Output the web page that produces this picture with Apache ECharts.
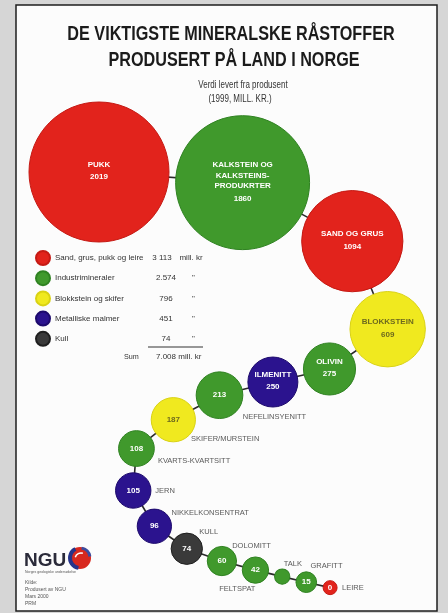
<!DOCTYPE html>
<html>
<head>
<meta charset="utf-8">
<script src="https://cdn.jsdelivr.net/npm/echarts@6/dist/echarts.min.js"></script>
<style>
  html, body { margin: 0; padding: 0; background: #d6d6d6; }
  #chart { width: 448px; height: 613px; }
</style>
</head>
<body>
<div id="chart"></div>
<script>
// ---- Data: value delivered from producer, 1999, mill. kr ----
const minerals = ['PUKK', 'KALKSTEIN OG\nKALKSTEINS-\nPRODUKRTER', 'SAND OG GRUS', 'BLOKKSTEIN', 'OLIVIN',
  'ILMENITT', 'NEFELINSYENITT', 'SKIFER/MURSTEIN', 'KVARTS-KVARTSITT', 'JERN', 'NIKKELKONSENTRAT',
  'KULL', 'DOLOMITT', 'FELTSPAT', 'TALK', 'GRAFITT', 'LEIRE'];
const values = [2019, 1860, 1094, 609, 275, 250, 213, 187, 108, 105, 96, 74, 60, 42, 1, 15, 0];
const groupIndex = [0, 1, 0, 2, 1, 3, 1, 2, 1, 3, 3, 4, 1, 1, 1, 1, 0];
const groupNames = ['Sand, grus, pukk og leire', 'Industrimineraler', 'Blokkstein og skifer', 'Metalliske malmer', 'Kull'];
const titleLines = ['DE VIKTIGSTE MINERALSKE RÅSTOFFER', 'PRODUSERT PÅ LAND I NORGE'];
const subtitleLines = ['Verdi levert fra produsent', '(1999, MILL. KR.)'];
const creditLines = ['Kilde:', 'Produsert av NGU', 'Mars 2000', 'PRM'];
const sumLabel = 'Sum';
const unitText = 'mill. kr';
const noValueLabel = ['TALK'];

// ---- Styles ----
const FONT = "'Liberation Sans', Arial, sans-serif";
const groupColors = ['#e2231c', '#40992c', '#f0e91f', '#2b138e', '#3a3a3a'];
const groupEdges = ['#c51a14', '#2f8221', '#d9d214', '#1d0a6c', '#1f1f1f'];
const groupText = ['#ffffff', '#ffffff', '#6e6a1e', '#ffffff', '#ffffff'];
const innerNameMin = 250;          // bubbles this large carry their name inside
const GAP = 6.5;                   // space between neighbouring bubbles along the chain
// Track the chain of bubbles follows (screen px)
const track = [[99, 172], [236, 181], [340, 230], [394, 312], [334, 367], [220, 395],
  [136, 449], [133, 490], [183, 547], [340, 590], [430, 607]];
// Where each outside name sits, in bubble radii from its centre
const namePlacement = {
  'NEFELINSYENITT': [1.0, 0.95, 'left'], 'SKIFER/MURSTEIN': [0.8, 0.85, 'left'],
  'KVARTS-KVARTSITT': [1.2, 0.7, 'left'], 'JERN': [1.25, 0, 'left'],
  'NIKKELKONSENTRAT': [1.0, -0.75, 'left'], 'KULL': [0.8, -1.1, 'left'],
  'DOLOMITT': [0.7, -1.0, 'left'], 'FELTSPAT': [0.0, 1.1, 'right'],
  'TALK': [0.2, -1.7, 'left'], 'GRAFITT': [0.4, -1.6, 'left'], 'LEIRE': [1.7, 0, 'left']
};

function radius(v) { return 7 + 0.655 * Math.pow(v, 0.6); }

function sampleTrack(pts, n) {
  const out = [];
  for (let i = 0; i < pts.length - 1; i++) {
    const p0 = pts[Math.max(i - 1, 0)], p1 = pts[i], p2 = pts[i + 1], p3 = pts[Math.min(i + 2, pts.length - 1)];
    for (let k = 0; k < n; k++) {
      const t = k / n, t2 = t * t, t3 = t2 * t;
      const f = (a, b, c, d) => 0.5 * (2 * b + (-a + c) * t + (2 * a - 5 * b + 4 * c - d) * t2 + (-a + 3 * b - 3 * c + d) * t3);
      out.push([f(p0[0], p1[0], p2[0], p3[0]), f(p0[1], p1[1], p2[1], p3[1])]);
    }
  }
  out.push(pts[pts.length - 1]);
  return out;
}
const dist = (a, b) => Math.hypot(a[0] - b[0], a[1] - b[1]);

// Slide each bubble along the track so neighbours sit GAP apart
const samples = sampleTrack(track, 200);
const centers = [samples[0]];
let si = 0;
for (let i = 1; i < values.length; i++) {
  const prev = centers[i - 1];
  const need = radius(values[i - 1]) + radius(values[i]) + GAP;
  while (si < samples.length - 1 && dist(samples[si], prev) < need) si++;
  centers.push(samples[si]);
}

function fmt(n, sep) { return String(n).replace(/\B(?=(\d{3})+(?!\d))/g, sep); }
const groupTotals = groupNames.map((_, g) => values.reduce((s, v, i) => s + (groupIndex[i] === g ? v : 0), 0));
const grandTotal = groupTotals.reduce((a, b) => a + b, 0);

// ---- Series ----
const series = [{
  type: 'line', name: 'chain', z: 1, silent: true, symbol: 'none',
  lineStyle: { color: '#2a2a2a', width: 1.6 },
  data: centers.map(c => [c[0], c[1]])
}];

groupNames.forEach((gName, g) => {
  const data = [];
  values.forEach((v, i) => {
    if (groupIndex[i] !== g) return;
    data.push({ value: [centers[i][0], centers[i][1], v], name: minerals[i], idx: i });
  });
  series.push({
    type: 'scatter', name: gName, z: 2, silent: true,
    symbolSize: d => 2 * radius(d[2]),
    itemStyle: { color: groupColors[g], borderColor: groupEdges[g], borderWidth: 1, opacity: 1 },
    label: {
      show: true, position: 'inside', color: groupText[g],
      fontFamily: FONT, fontWeight: 'bold',
      formatter: p => {
        const i = p.data.idx, v = values[i];
        if (v >= innerNameMin) return `{n|${minerals[i]}}\n{v|${v}}`;
        if (noValueLabel.includes(minerals[i])) return '';
        return `{s|${v}}`;
      },
      rich: {
        n: { fontFamily: FONT, fontWeight: 'bold', fontSize: 8, lineHeight: 10.5, color: groupText[g] },
        v: { fontFamily: FONT, fontWeight: 'bold', fontSize: 8, lineHeight: 14, color: groupText[g] },
        s: { fontFamily: FONT, fontWeight: 'bold', fontSize: 8, color: groupText[g] }
      }
    },
    data
  });
});

// Names written beside the smaller bubbles
const nameData = [];
values.forEach((v, i) => {
  if (v >= innerNameMin) return;
  const r = radius(v);
  const pl = namePlacement[minerals[i]] || [1.2, 0, 'left'];
  nameData.push({
    value: [centers[i][0], centers[i][1], v],
    label: {
      show: true, formatter: minerals[i],
      position: [r + pl[0] * r, r + pl[1] * r],
      align: pl[2], verticalAlign: pl[2] === 'right' ? 'top' : 'middle'
    }
  });
});
series.push({
  type: 'scatter', name: 'names', z: 3, silent: true,
  symbolSize: d => 2 * radius(d[2]),
  itemStyle: { color: 'rgba(0,0,0,0)' },
  label: { fontFamily: FONT, fontSize: 7.5, color: '#2e2e2e' },
  data: nameData
});

// ---- Text, frame and logo ----
const txt = (x, y, text, size, weight, color, align, sx) => ({
  type: 'text', x, y, z: 10, silent: true, scaleX: sx || 1,
  style: { text, fontSize: size, fontWeight: weight || 'normal', fontFamily: FONT, fill: color || '#222',
    align: align || 'center', verticalAlign: 'middle', textAlign: align || 'center', textVerticalAlign: 'middle' }
});

const graphic = [
  { type: 'rect', z: -5, silent: true, shape: { x: 16, y: 5, width: 421, height: 606 },
    style: { fill: '#fcfcfc', stroke: '#1e1e1e', lineWidth: 1.5 } },
  txt(231, 34, titleLines[0], 20, 'bold', '#1b1b1b', 'center', 0.81),
  txt(234, 60, titleLines[1], 20, 'bold', '#1b1b1b', 'center', 0.81),
  txt(243, 85, subtitleLines[0], 10, 'normal', '#333', 'center', 0.8),
  txt(240, 99, subtitleLines[1], 10, 'normal', '#333', 'center', 0.8),
  { type: 'line', z: 10, silent: true, shape: { x1: 148, y1: 347, x2: 203, y2: 347 }, style: { stroke: '#333', lineWidth: 1 } },
  txt(124, 357, sumLabel, 8, 'normal', '#333', 'left', 0.9),
  txt(156, 357, fmt(grandTotal, '.') + ' ' + unitText, 8, 'normal', '#333', 'left'),
  // NGU logo
  txt(24, 561, 'NGU', 19, 'bold', '#2b2b3a', 'left'),
  txt(25, 572, 'Norges geologiske undersøkelse', 3.5, 'normal', '#555', 'left'),
  { type: 'circle', z: 10, silent: true, shape: { cx: 80, cy: 558, r: 11 }, style: { fill: '#d8281e' } },
  { type: 'arc', z: 11, silent: true, shape: { cx: 80, cy: 558, r: 10, startAngle: Math.PI * 0.55, endAngle: Math.PI * 1.35 },
    style: { stroke: '#26348a', lineWidth: 4, fill: null } },
  { type: 'arc', z: 11, silent: true, shape: { cx: 80, cy: 558, r: 10, startAngle: Math.PI * 1.55, endAngle: Math.PI * 1.95 },
    style: { stroke: '#3b4da0', lineWidth: 3, fill: null } },
  { type: 'arc', z: 12, silent: true, shape: { cx: 81, cy: 559, r: 6, startAngle: Math.PI * 1.1, endAngle: Math.PI * 1.6 },
    style: { stroke: '#ffffff', lineWidth: 1.5, fill: null } }
];
creditLines.forEach((line, k) => graphic.push(txt(25, 583 + k * 6.8, line, 5, 'normal', '#555', 'left')));

// ---- Legend with group totals ----
const legend = {
  data: groupNames, orient: 'vertical', left: 35, top: 250, padding: 0,
  itemWidth: 14, itemHeight: 14, itemGap: 4.2, icon: 'circle', selectedMode: false,
  formatter: name => {
    const g = groupNames.indexOf(name);
    if (g === 0) return `{n|${name}}{v0|${fmt(groupTotals[g], ' ')}}{u|  ${unitText}}`;
    return `{n|${name}}{v|${fmt(groupTotals[g], '.')}}{u|    "}`;
  },
  textStyle: {
    fontFamily: FONT, fontSize: 8, color: '#333', lineHeight: 12,
    rich: {
      n: { width: 94, fontFamily: FONT, fontSize: 8, color: '#333', lineHeight: 12 },
      v0: { width: 26, align: 'right', fontFamily: FONT, fontSize: 8, color: '#333', lineHeight: 12 },
      v: { width: 34, align: 'right', fontFamily: FONT, fontSize: 8, color: '#333', lineHeight: 12 },
      u: { fontFamily: FONT, fontSize: 8, color: '#333', lineHeight: 12 }
    }
  }
};

const chart = echarts.init(document.getElementById('chart'), null, { renderer: 'canvas' });
chart.setOption({
  animation: false,
  backgroundColor: 'transparent',
  grid: { left: 0, top: 0, width: 448, height: 613 },
  xAxis: { type: 'value', min: 0, max: 448, show: false },
  yAxis: { type: 'value', min: 0, max: 613, inverse: true, show: false },
  legend,
  graphic,
  series
});
</script>
</body>
</html>
